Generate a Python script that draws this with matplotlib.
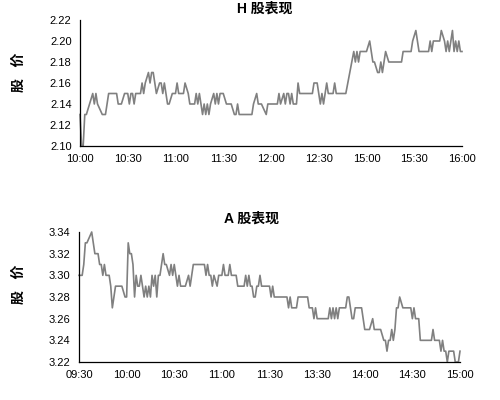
import numpy as np
import matplotlib
matplotlib.use("Agg")
import matplotlib.pyplot as plt

plt.rcParams['font.family'] = ['Liberation Sans', 'Noto Sans CJK SC', 'DejaVu Sans']

# H shares: minute since open, price in cents
h_minute = [0, 1, 2, 3, 4, 8, 9, 10, 11, 14, 16, 18, 23, 24, 26, 28, 30, 31, 32, 33,
            34, 35, 38, 39, 40, 41, 43, 44, 45, 46, 47, 48, 50, 51, 52, 53, 55, 56, 58, 60,
            61, 62, 65, 66, 68, 69, 72, 73, 74, 75, 76, 77, 78, 79, 80, 81, 82, 84, 85, 86,
            87, 88, 90, 92, 95, 97, 98, 99, 100, 108, 109, 111, 112, 114, 117, 118, 122, 124, 125, 126,
            128, 129, 130, 131, 132, 133, 134, 136, 137, 138, 146, 147, 149, 150, 151, 152, 153, 154, 155, 156,
            159, 160, 161, 167, 172, 173, 174, 175, 176, 180, 182, 183, 184, 185, 187, 188, 189, 190, 191, 192,
            194, 202, 203, 208, 209, 211, 212, 213, 219, 220, 221, 222, 226, 227, 229, 230, 231, 232, 233, 234,
            235, 236, 237, 238, 239, 240]
h_cents = [213, 210, 210, 213, 213, 215, 214, 215, 214, 213, 213, 215, 215, 214, 214, 215, 215, 214, 215, 215,
           214, 215, 215, 216, 215, 216, 217, 216, 217, 217, 216, 215, 216, 216, 215, 216, 214, 214, 215, 215,
           216, 215, 215, 216, 215, 214, 214, 215, 214, 215, 214, 213, 214, 213, 214, 213, 214, 215, 214, 215,
           214, 215, 215, 214, 214, 213, 213, 214, 213, 213, 214, 215, 214, 214, 213, 214, 214, 214, 215, 214,
           215, 214, 215, 215, 214, 215, 214, 214, 216, 215, 215, 216, 216, 215, 214, 215, 214, 215, 216, 215,
           215, 216, 215, 215, 219, 218, 219, 218, 219, 219, 220, 219, 218, 218, 217, 217, 218, 217, 218, 219,
           218, 218, 219, 219, 220, 221, 220, 219, 219, 220, 219, 220, 220, 221, 220, 219, 220, 219, 220, 221,
           219, 220, 219, 220, 219, 219]
h_ticks = ['10:00', '10:30', '11:00', '11:30', '12:00', '12:30', '15:00', '15:30', '16:00']
h_yticks = [2.10, 2.12, 2.14, 2.16, 2.18, 2.20, 2.22]

# A shares: minute since open, price in cents
a_minute = [0, 2, 3, 4, 5, 8, 9, 10, 12, 13, 14, 15, 16, 17, 19, 20, 21, 22, 23, 27,
            29, 30, 31, 32, 33, 34, 35, 36, 37, 38, 39, 40, 41, 42, 43, 44, 45, 46, 47, 48,
            49, 50, 51, 53, 54, 55, 57, 58, 59, 60, 61, 62, 63, 64, 67, 69, 70, 71, 72, 79,
            80, 81, 82, 83, 84, 85, 87, 88, 90, 91, 92, 94, 95, 96, 99, 100, 104, 105, 106, 107,
            108, 109, 110, 111, 112, 113, 114, 115, 120, 121, 122, 123, 131, 132, 133, 134, 137, 138, 144, 145,
            147, 148, 149, 150, 157, 158, 159, 160, 161, 162, 163, 164, 168, 169, 170, 171, 172, 173, 174, 178,
            179, 180, 183, 185, 186, 190, 192, 193, 194, 195, 196, 197, 198, 199, 200, 201, 202, 204, 209, 210,
            211, 212, 214, 215, 222, 223, 224, 227, 228, 229, 230, 231, 232, 233, 236, 237, 239, 240]
a_cents = [330, 330, 331, 333, 333, 334, 333, 332, 332, 331, 331, 330, 331, 330, 330, 329, 327, 328, 329, 329,
           328, 328, 333, 332, 332, 331, 328, 330, 329, 329, 330, 329, 328, 329, 328, 329, 328, 330, 329, 330,
           328, 330, 330, 332, 331, 331, 330, 331, 330, 331, 330, 329, 330, 329, 329, 330, 329, 330, 331, 331,
           330, 331, 330, 330, 329, 330, 329, 330, 330, 331, 330, 330, 331, 330, 330, 329, 329, 330, 329, 330,
           329, 329, 328, 328, 329, 329, 330, 329, 329, 328, 329, 328, 328, 327, 328, 327, 327, 328, 328, 327,
           327, 326, 327, 326, 326, 327, 326, 327, 326, 327, 326, 327, 327, 328, 328, 327, 326, 326, 327, 327,
           326, 325, 325, 326, 325, 325, 324, 324, 323, 324, 324, 325, 324, 325, 327, 327, 328, 327, 327, 326,
           327, 326, 326, 324, 324, 325, 324, 324, 323, 324, 323, 323, 322, 323, 323, 322, 322, 323]
a_ticks = ['09:30', '10:00', '10:30', '11:00', '11:30', '13:30', '14:00', '14:30', '15:00']
a_yticks = [3.22, 3.24, 3.26, 3.28, 3.30, 3.32, 3.34]


def draw(ax, minute, cents, ticks, yticks):
    ax.plot(minute, np.array(cents) / 100, color='#808080', lw=1.2, clip_on=False)
    ax.set_xlim(0, 240)
    ax.set_ylim(yticks[0], yticks[-1])
    ax.set_xticks(np.arange(len(ticks)) * 30)
    ax.set_xticklabels(ticks)
    ax.set_yticks(yticks)
    ax.set_yticklabels([f'{v:.2f}' for v in yticks])
    ax.tick_params(length=0, labelsize=8, pad=6)
    for s in ('top', 'right'):
        ax.spines[s].set_visible(False)
    for s in ('left', 'bottom'):
        ax.spines[s].set_linewidth(0.9)
        ax.spines[s].set_color('black')


fig = plt.figure(figsize=(5, 4), dpi=100)
ax1 = fig.add_axes([0.160, 0.635, 0.764, 0.315])
ax2 = fig.add_axes([0.158, 0.095, 0.762, 0.325])

draw(ax1, h_minute, h_cents, h_ticks, h_yticks)
draw(ax2, a_minute, a_cents, a_ticks, a_yticks)

fig.text(0.530, 0.978, 'H 股表现', ha='center', va='center', fontsize=10, fontweight='bold')
fig.text(0.504, 0.453, 'A 股表现', ha='center', va='center', fontsize=10, fontweight='bold')
fig.text(0.038, 0.818, '股   价', ha='center', va='center', rotation=90, fontsize=10, fontweight='bold')
fig.text(0.038, 0.29, '股   价', ha='center', va='center', rotation=90, fontsize=10, fontweight='bold')

fig.savefig('out.png', dpi=100)
